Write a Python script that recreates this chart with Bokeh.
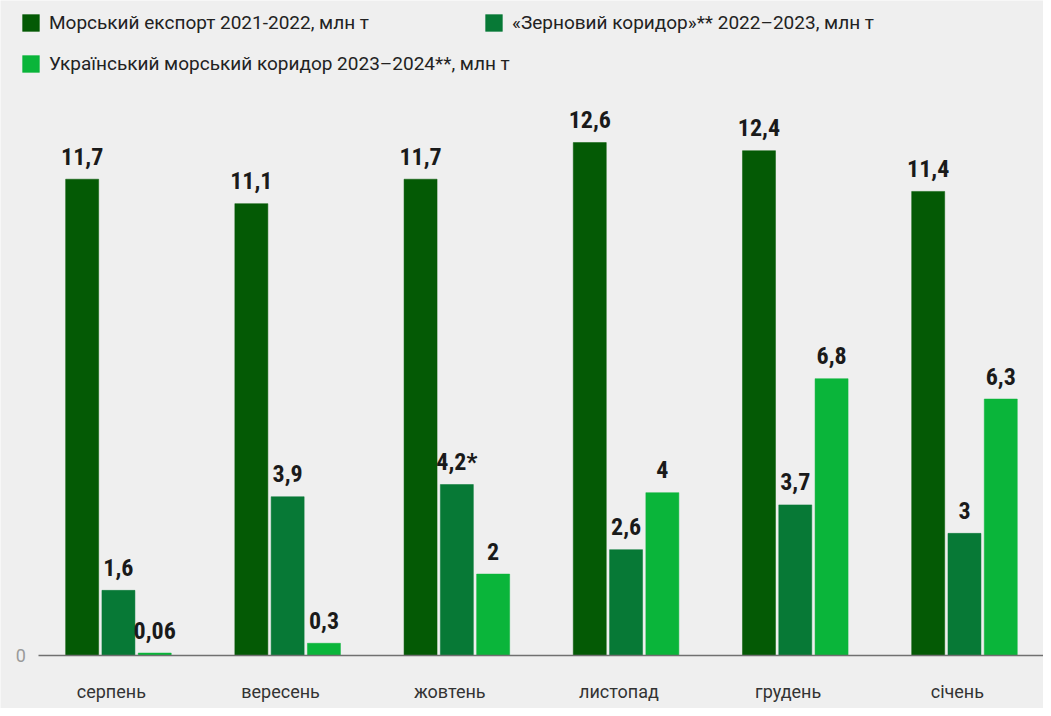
from bokeh.plotting import figure
from bokeh.models import Legend, LegendItem, FixedTicker, Range1d, ColumnDataSource
from bokeh.core.properties import value
from bokeh.embed import file_html
from bokeh.resources import INLINE

months = ["серпень", "вересень", "жовтень", "листопад", "грудень", "січень"]
export_2122 = [11.7, 11.1, 11.7, 12.6, 12.4, 11.4]
corridor_2223 = [1.6, 3.9, 4.2, 2.6, 3.7, 3.0]
corridor_2324 = [0.06, 0.3, 2.0, 4.0, 6.8, 6.3]
labels_2122 = ["11,7", "11,1", "11,7", "12,6", "12,4", "11,4"]
labels_2223 = ["1,6", "3,9", "4,2*", "2,6", "3,7", "3"]
labels_2324 = ["0,06", "0,3", "2", "4", "6,8", "6,3"]
series_names = [
    "Морський експорт 2021-2022, млн т",
    "«Зерновий коридор»** 2022–2023, млн т",
    "Український морський коридор 2023–2024**, млн т",
]
colors = ["#045a05", "#077936", "#0ab53a"]

FONT = "Roboto"
LABEL_FONT = "Liberation Sans Narrow, Roboto Condensed, Roboto"

X_START, X_END = -0.697, 5.467
AXIS_START = -0.47
TICK_SHIFT = -0.042

p = figure(width=1043, height=708, output_backend="svg", toolbar_location=None,
           x_range=Range1d(X_START, X_END), y_range=Range1d(-1.302, 16.09),
           min_border_left=0, min_border_right=0, min_border_top=0, min_border_bottom=0)
p.background_fill_color = "#efefef"
p.border_fill_color = "#efefef"
p.outline_line_color = None
p.xgrid.grid_line_color = None
p.ygrid.grid_line_color = None

offsets = [-0.2145, 0.0, 0.2145]
bar_w = 0.195
renderers = []
for k, (vals, labs) in enumerate([(export_2122, labels_2122),
                                  (corridor_2223, labels_2223),
                                  (corridor_2324, labels_2324)]):
    src = ColumnDataSource(dict(x=[i + offsets[k] for i in range(len(months))],
                                top=vals, lab=labs))
    r = p.vbar(x="x", top="top", width=bar_w, bottom=0, source=src,
               fill_color=colors[k], line_color=colors[k], line_width=0.5)
    renderers.append(r)
    p.text(x="x", y="top", text="lab", source=src, text_align="center",
           text_baseline="alphabetic", y_offset=-23,
           text_font=value(LABEL_FONT), text_font_style="bold",
           text_font_size="24px", text_color="#1a1a1a")

# x axis: drawn at y = 0, line only under the bars
ticks = [i + TICK_SHIFT for i in range(len(months))]
p.xaxis.ticker = FixedTicker(ticks=ticks)
p.xaxis.major_label_overrides = {t: m for t, m in zip(ticks, months)}
p.xaxis.fixed_location = 0
p.xaxis.bounds = (AXIS_START, X_END)
p.xaxis.axis_line_color = "#707070"
p.xaxis.axis_line_width = 1.5
p.xaxis.major_tick_line_color = None
p.xaxis.minor_tick_line_color = None
p.xaxis.major_tick_out = 0
p.xaxis.major_tick_in = 0
p.xaxis.major_label_standoff = 26
p.xaxis.major_label_text_font = FONT
p.xaxis.major_label_text_font_size = "18px"
p.xaxis.major_label_text_color = "#333333"

# y axis: only the "0" label, placed at the start of the baseline
p.yaxis.ticker = FixedTicker(ticks=[0])
p.yaxis.fixed_location = AXIS_START
p.yaxis.axis_line_color = None
p.yaxis.major_tick_line_color = None
p.yaxis.minor_tick_line_color = None
p.yaxis.major_tick_out = 0
p.yaxis.major_tick_in = 0
p.yaxis.major_label_standoff = 13
p.yaxis.major_label_text_font = FONT
p.yaxis.major_label_text_font_size = "18px"
p.yaxis.major_label_text_color = "#9a9a9a"

# legends (one item each, positioned like the reference)
locs = [(20, 674), (483, 674), (20, 633)]
for r, name, loc in zip(renderers, series_names, locs):
    lg = Legend(items=[LegendItem(label=name, renderers=[r])], location=loc,
                orientation="horizontal", padding=0, margin=0, spacing=0,
                glyph_width=21, glyph_height=21, label_height=21,
                label_standoff=8, border_line_color=None,
                background_fill_alpha=0, label_text_font=FONT,
                label_text_font_size="19px", label_text_color="#222222")
    p.add_layout(lg)

open("out.html", "w").write(file_html(p, INLINE))
